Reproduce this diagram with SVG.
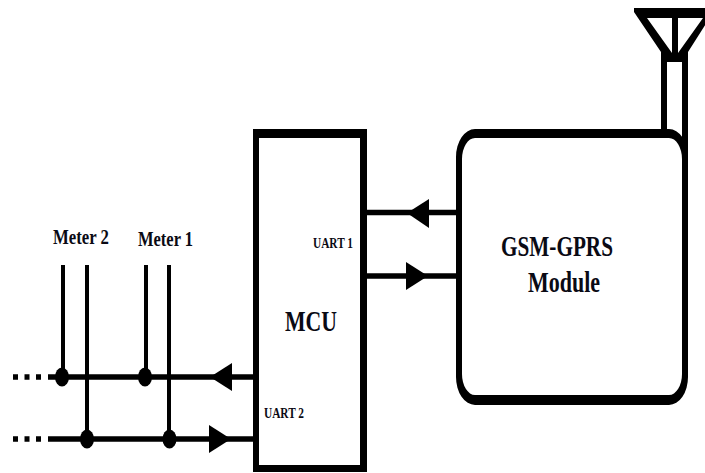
<svg xmlns="http://www.w3.org/2000/svg" width="705" height="473" viewBox="0 0 705 473">
<style>
.bus{fill:none;stroke:#000;stroke-width:5.5}
.wire{fill:none;stroke:#000;stroke-width:4}
.head,.dot,.ant{fill:#000}
text{font-family:"Liberation Serif","Times New Roman",serif;font-weight:bold;fill:#0a0a14;text-anchor:start}
.sm{font-size:15px}
.md{font-size:21px}
.lg{font-size:30px}
</style>
<rect width="705" height="473" fill="#fff"/>
<g id="connectors">
<path class="bus" d="M367 212.500H456M367 276H456"/>
<path class="bus" d="M48 377H253M48 439H253"/>
<path class="bus" stroke-dasharray="5 6.500" d="M13 377H42M13 439H42"/>
<path class="wire" d="M63 265V377M87 265V439M146 265V377M169 265V439"/>
<polygon class="head" points="407,213 429,199 429,228"/>
<polygon class="head" points="428,276 406,262 406,290"/>
<polygon class="head" points="210,377 232,363 232,391"/>
<polygon class="head" points="231,439 209,425 209,453"/>
<ellipse class="dot" cx="62" cy="377" rx="7" ry="9.500"/>
<ellipse class="dot" cx="145" cy="377" rx="7" ry="9.500"/>
<ellipse class="dot" cx="87" cy="439" rx="7" ry="9.500"/>
<ellipse class="dot" cx="169.500" cy="439" rx="7" ry="9.500"/>
</g>
<g id="mcu">
<path class="ant" fill-rule="evenodd" d="M253 129H367V472H253ZM259 138V465H360V138Z"/>
<text class="lg" x="285" y="331" textLength="52" lengthAdjust="spacingAndGlyphs">MCU</text>
<text class="sm" x="313" y="248" textLength="40" lengthAdjust="spacingAndGlyphs">UART 1</text>
<text class="sm" x="264" y="418" textLength="40" lengthAdjust="spacingAndGlyphs">UART 2</text>
</g>
<g id="gsm-gprs-module">
<path class="ant" fill-rule="evenodd" d="M475 129H669A19 28 0 0 1 688 157V377A19 28 0 0 1 669 405H475A19 28 0 0 1 456 377V157A19 28 0 0 1 475 129ZM475 138A13 21 0 0 0 462 159V374A13 21 0 0 0 475 395H669A13 21 0 0 0 682 374V159A13 21 0 0 0 669 138Z"/>
<text class="lg" x="501" y="256" textLength="112" lengthAdjust="spacingAndGlyphs">GSM-GPRS</text>
<text class="lg" x="528" y="292" textLength="72" lengthAdjust="spacingAndGlyphs">Module</text>
</g>
<g id="antenna">
<path class="ant" fill-rule="evenodd" d="M634 8H716L688 52V165H682V62H667V133H661V52L634 12ZM647 18L672 53V18ZM678 18V53L703 18Z"/>
</g>
<g id="meter-2"><text class="md" x="53" y="244" textLength="56" lengthAdjust="spacingAndGlyphs">Meter 2</text></g>
<g id="meter-1"><text class="md" x="138" y="246" textLength="55" lengthAdjust="spacingAndGlyphs">Meter 1</text></g>
</svg>
